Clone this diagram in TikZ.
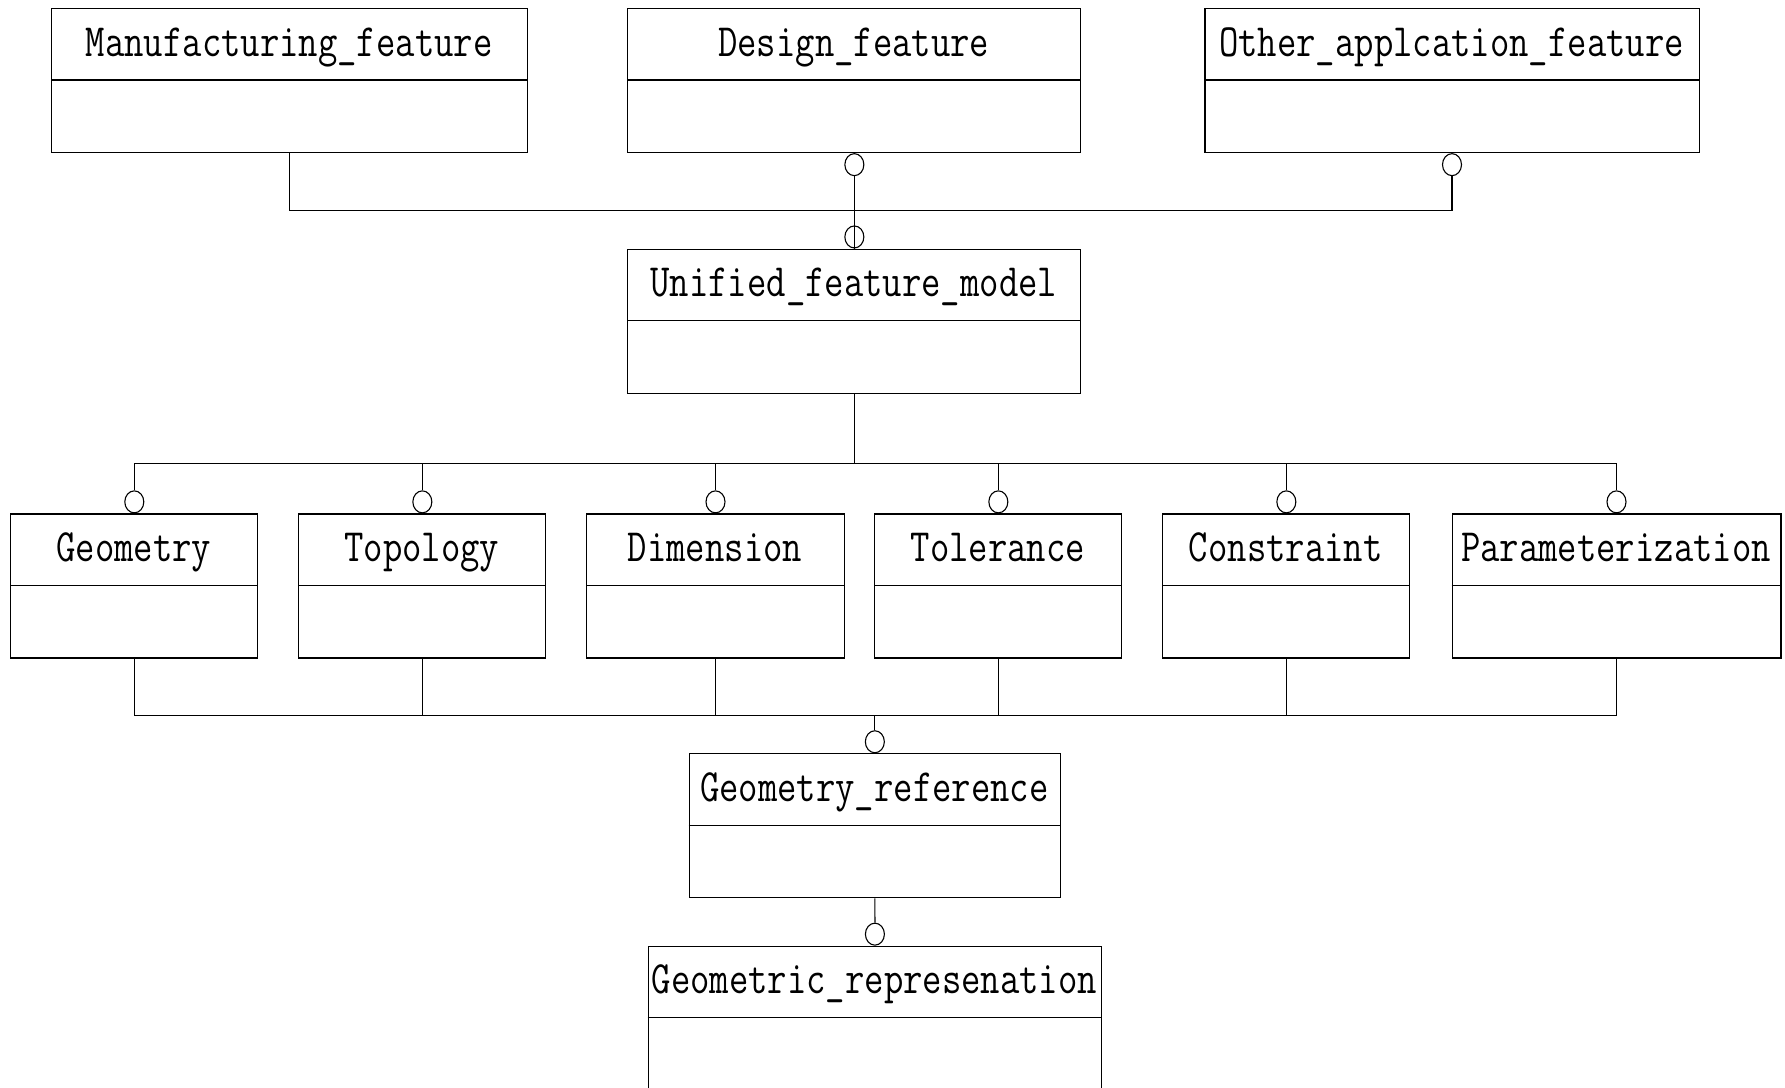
\documentclass[tikz,border=0pt]{standalone}
\usepackage{fontspec}
\usetikzlibrary{shapes.geometric}
\begin{document}
\begin{tikzpicture}[x=1pt,y=-1pt,
  line width=1.1pt,
  boxbody/.style={draw, rectangle, minimum height=144pt, inner sep=0pt},
  lbl/.style={font=\fontsize{37.6}{40}\selectfont\ttfamily, inner sep=0pt, anchor=base},
  ring/.style={draw, ellipse, minimum width=19pt, minimum height=22pt, inner sep=0pt},
  wire/.style={line width=1.2pt}]
\useasboundingbox (0,0) rectangle (1785,1087);
% class box: name, left x, right x, top y, title
\newcommand\umlbox[5]{%
  \node[boxbody, minimum width={#3-#2}, anchor=north west] (#1) at (#2,#4) {};
  \draw ([yshift=-72pt]#1.north west) -- ([yshift=-72pt]#1.north east);
  \node[lbl] (#1-t) at ({(#2+#3)/2},{#4+48}) {\scalebox{1}[1.23]{#5}};
}
% top row
\umlbox{man}{51.2}{527.1}{8}{Manufacturing\_feature}
\umlbox{des}{627.3}{1080.3}{8}{Design\_feature}
\umlbox{oth}{1204.4}{1698.5}{8}{Other\_applcation\_feature}
% central model
\umlbox{ufm}{627.3}{1080.3}{248.5}{Unified\_feature\_model}
% aspect row
\umlbox{geo}{10.2}{257.3}{513.4}{Geometry}
\umlbox{top}{298.3}{545.3}{513.4}{Topology}
\umlbox{dim}{586.3}{843.6}{513.4}{Dimension}
\umlbox{tol}{874.3}{1121.3}{513.4}{Tolerance}
\umlbox{con}{1162.3}{1409.3}{513.4}{Constraint}
\umlbox{par}{1451.5}{1780.4}{513.4}{Parameterization}
% references
\umlbox{gref}{688.7}{1059.9}{753.3}{Geometry\_reference}
\umlbox{grep}{647.7}{1101}{945.7}{Geometric\_represenation}

% optional-end rings
\node[ring, anchor=north] (r-des) at (des.south) {};
\node[ring, anchor=north] (r-oth) at (oth.south) {};
\node[ring, anchor=south] (r-ufm) at (ufm.north) {};
\foreach \n in {geo,top,dim,tol,con,par}
  \node[ring, anchor=south] (r-\n) at (\n.north) {};
\node[ring, anchor=south] (r-gref) at (gref.north) {};
\node[ring, anchor=south] (r-grep) at (grep.north) {};

\coordinate (bus1) at (0,210.6);
\coordinate (bus2) at (0,463.3);
\coordinate (bus3) at (0,715.7);

% top row to unified model
\draw[wire] (man.south) -- (man.south |- bus1) -| (r-oth.south);
\draw[wire] (r-des.south) -- (ufm.north);

% unified model to aspects
\draw[wire] (ufm.south) -- (ufm.south |- bus2);
\draw[wire] (r-geo.north) -- (r-geo.north |- bus2) -- (r-par.north |- bus2) -- (r-par.north);
\foreach \n in {top,dim,tol,con}
  \draw[wire] (r-\n.north) -- (r-\n.north |- bus2);

% aspects to geometry reference
\draw[wire] (geo.south) -- (geo.south |- bus3) -- (par.south |- bus3) -- (par.south);
\foreach \n in {top,dim,tol,con}
  \draw[wire] (\n.south) -- (\n.south |- bus3);
\draw[wire] (r-gref.north) -- (r-gref.north |- bus3);

% geometry reference to representation
\draw[wire] (gref.south) -- (r-grep.north);
\end{tikzpicture}
\end{document}
